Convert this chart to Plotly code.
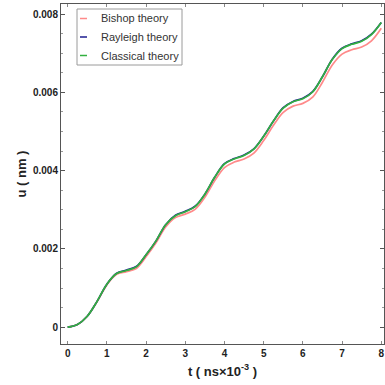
import plotly.graph_objects as go

t_vals = [0, 0.25, 0.5, 0.75, 1.0, 1.25, 1.5, 1.75, 2.0, 2.25, 2.5, 2.75, 3.0, 3.25,
          3.5, 3.75, 4.0, 4.25, 4.5, 4.75, 5.0, 5.25, 5.5, 5.75, 6.0, 6.25, 6.5,
          6.75, 7.0, 7.25, 7.5, 7.75, 8.0]

u_classical = [0, 0.00007, 0.00028, 0.00066, 0.00110, 0.00137, 0.00145, 0.00154,
               0.00185, 0.00220, 0.00262, 0.00285, 0.00295, 0.00308, 0.00340,
               0.00383, 0.00417, 0.00430, 0.00439, 0.00455, 0.00488, 0.00527,
               0.00560, 0.00576, 0.00584, 0.00601, 0.00640, 0.00684, 0.00712,
               0.00723, 0.00731, 0.00748, 0.00779]

u_rayleigh = [0, 0.00007, 0.00028, 0.00066, 0.00110, 0.00138, 0.00146, 0.00155,
              0.00185, 0.00220, 0.00262, 0.00286, 0.00296, 0.00309, 0.00340,
              0.00383, 0.00418, 0.00431, 0.00440, 0.00456, 0.00488, 0.00527,
              0.00561, 0.00577, 0.00585, 0.00602, 0.00640, 0.00685, 0.00713,
              0.00724, 0.00732, 0.00749, 0.00779]

u_bishop = [0, 0.00007, 0.00028, 0.00065, 0.00108, 0.00135, 0.00142, 0.00150,
            0.00180, 0.00215, 0.00256, 0.00280, 0.00289, 0.00301, 0.00332,
            0.00374, 0.00408, 0.00422, 0.00430, 0.00445, 0.00477, 0.00516,
            0.00549, 0.00565, 0.00572, 0.00588, 0.00626, 0.00670, 0.00698,
            0.00709, 0.00716, 0.00732, 0.00764]

series_names = ["Bishop theory", "Rayleigh theory", "Classical theory"]
series_colors = ["#ff8a8a", "#1c1c8f", "#33b040"]

x_ticks = [0, 1, 2, 3, 4, 5, 6, 7, 8]
y_ticks = [0, 0.002, 0.004, 0.006, 0.008]
y_tick_text = ["0", "0.002", "0.004", "0.006", "0.008"]

fig = go.Figure()
for name, ys, col in zip(series_names, [u_bishop, u_rayleigh, u_classical], series_colors):
    fig.add_trace(go.Scatter(x=t_vals, y=ys, mode="lines", name=name,
                             line=dict(color=col, width=1.7, shape="spline", smoothing=1.0),
                             showlegend=False))

frame = "#555555"
fig.update_xaxes(range=[-0.17, 8.07], tickvals=x_ticks, ticktext=[str(v) for v in x_ticks],
                 automargin=False,
                 ticks="inside", ticklen=3, tickcolor="#888888", showline=True, linecolor=frame,
                 linewidth=1, mirror="allticks", showgrid=False, zeroline=False,
                 tickfont=dict(family="Liberation Sans", size=10, color="#222222", weight="bold"),
                 title=dict(text="t ( ns×10<sup>-3</sup> )", standoff=8,
                            font=dict(family="Liberation Sans", size=13, color="#222222", weight="bold")))
fig.update_yaxes(range=[-0.00043, 0.00826], tickvals=y_ticks, ticktext=y_tick_text,
                 automargin=False,
                 ticks="inside", ticklen=4, tickcolor=frame, showline=True, linecolor=frame,
                 linewidth=1, mirror="allticks", showgrid=False, zeroline=False,
                 tickfont=dict(family="Liberation Sans", size=10, color="#222222", weight="bold"),
                 minor=dict(ticks="inside", ticklen=2, dtick=0.0005, tickcolor="#999999"),
                 title=dict(text="u ( nm )", standoff=3,
                            font=dict(family="Liberation Sans", size=13, color="#222222", weight="bold")))

# custom legend box (paper coordinates)
W, H = 385, 385
ml, mr, mt, mb = 61, 1, 4, 41
pw, ph = W - ml - mr, H - mt - mb
def px(x):
    return (x - ml) / pw
def py(y):
    return 1 - (y - mt) / ph

fig.add_shape(type="rect", xref="paper", yref="paper", x0=px(77), x1=px(182), y0=py(65), y1=py(9),
              line=dict(color="#9a9a9a", width=1), fillcolor="white", layer="above")
row_y = [18.5, 37, 55.5]
for name, col, ry in zip(series_names, series_colors, row_y):
    fig.add_shape(type="line", xref="paper", yref="paper", x0=px(80), x1=px(87), y0=py(ry), y1=py(ry),
                  line=dict(color=col, width=1.5), layer="above")
    fig.add_annotation(xref="paper", yref="paper", x=px(99), y=py(ry), text=name, showarrow=False,
                       xanchor="left", yanchor="middle",
                       font=dict(family="Liberation Sans", size=11, color="#333333"))

fig.update_layout(width=W, height=H, margin=dict(l=ml, r=mr, t=mt, b=mb),
                  paper_bgcolor="white", plot_bgcolor="white", showlegend=False)

fig.write_html("out.html", config={"displayModeBar": False},
               post_script="document.body.style.margin='0px';document.body.style.overflow='hidden';")
